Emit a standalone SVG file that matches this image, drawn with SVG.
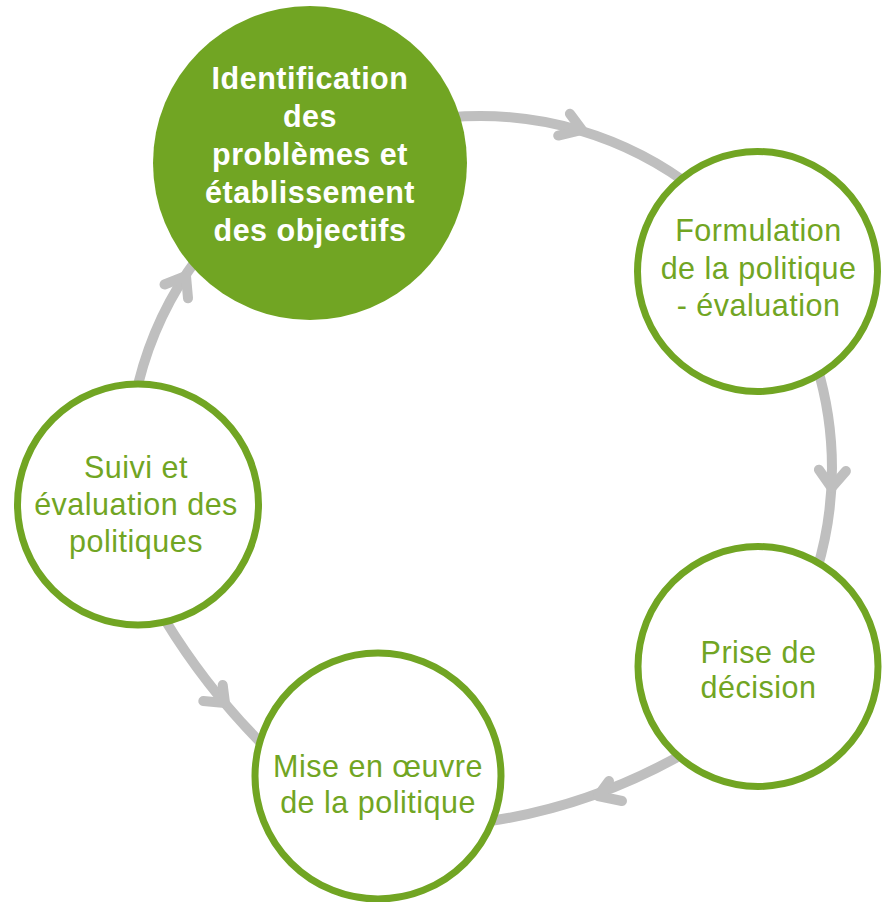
<svg xmlns="http://www.w3.org/2000/svg" width="882" height="902" viewBox="0 0 882 902">
<style>
.conn{fill:none;stroke:#bfbfbf;stroke-width:10;stroke-linecap:round;stroke-linejoin:round}
.ring{fill:#ffffff;stroke:#71a523;stroke-width:7}
.filled{fill:#71a523}
.t{font-family:"Liberation Sans",Arial,sans-serif;font-size:30.5px;letter-spacing:0.5px;text-anchor:middle}
.g{fill:#71a523}
.w{fill:#ffffff;font-weight:bold}
</style>
<g id="connectors">
<path class="conn" d="M449.3 117.3 A352 352 0 0 1 696.7 190.6"/>
<path class="conn" d="M569.9 113.8 L582 130 L558.2 135.6"/>
<path class="conn" d="M816.6 365.1 A352 352 0 0 1 816.6 570.9"/>
<path class="conn" d="M845.9 471.1 L831.5 487.7 L818.9 469.7"/>
<path class="conn" d="M690 750 Q594 805.75 490 821"/>
<path class="conn" d="M609 781 L598 796 L622 801"/>
<path class="conn" d="M165 620 Q206.3 687.6 262 744"/>
<path class="conn" d="M222.7 685 L225 703 L203.3 701.1"/>
<path class="conn" d="M138.5 382.8 A352 352 0 0 1 198.9 256.2"/>
<path class="conn" d="M164.5 284.5 L186 276 L188 298.3"/>
</g>
<g id="node-identification">
<circle class="filled" cx="310" cy="163" r="157"/>
<text class="t w" x="310" y="88.5">Identification</text>
<text class="t w" x="310" y="126.7">des</text>
<text class="t w" x="310" y="164.9">problèmes et</text>
<text class="t w" x="310" y="203.1">établissement</text>
<text class="t w" x="310" y="241.3">des objectifs</text>
</g>
<g id="node-formulation">
<circle class="ring" cx="757.5" cy="271.5" r="120"/>
<text class="t g" x="758.5" y="241.2">Formulation</text>
<text class="t g" x="758.5" y="278.6">de la politique</text>
<text class="t g" x="758.5" y="316">- évaluation</text>
</g>
<g id="node-decision">
<circle class="ring" cx="758" cy="666.5" r="120"/>
<text class="t g" x="758.5" y="663">Prise de</text>
<text class="t g" x="758.5" y="698">décision</text>
</g>
<g id="node-mise">
<circle class="ring" cx="378" cy="776" r="123"/>
<text class="t g" x="378" y="776.7">Mise en œuvre</text>
<text class="t g" x="378" y="812.5">de la politique</text>
</g>
<g id="node-suivi">
<circle class="ring" cx="138" cy="504.5" r="120.5"/>
<text class="t g" x="136" y="477.5">Suivi et</text>
<text class="t g" x="136" y="514.5">évaluation des</text>
<text class="t g" x="136" y="551.5">politiques</text>
</g>
</svg>
